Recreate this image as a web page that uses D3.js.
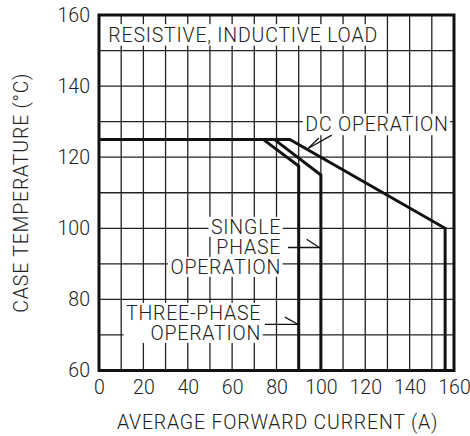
<!DOCTYPE html>
<html>
<head>
<meta charset="utf-8">
<script src="https://cdn.jsdelivr.net/npm/d3@7"></script>
<style>
  body { margin: 0; background: #fff; }
  text { font-family: Roboto, "Liberation Sans", Arial, sans-serif; font-weight: 300; fill: #222; letter-spacing: 0.8px; }
  .tick text { letter-spacing: 0; }
</style>
</head>
<body>
<svg width="470" height="436"></svg>
<script>
// values
var xTicks = [0, 20, 40, 60, 80, 100, 120, 140, 160];
var yTicks = [60, 80, 100, 120, 140, 160];
var threePhase = [[0, 125], [74, 125], [90, 117.5], [90, 60]];
var singlePhase = [[0, 125], [79, 125], [100, 115], [100, 60]];
var dcOperation = [[0, 125], [86, 125], [156, 100], [156, 60]];
var curves = [threePhase, singlePhase, dcOperation];

// labels, anchored in data units
var labels = [
  { lines: ["RESISTIVE, INDUCTIVE LOAD"], x: 4.2, y: 152.5, anchor: "start" },
  { lines: ["DC OPERATION"], x: 157.6, y: 127.3, anchor: "end" },
  { lines: ["SINGLE", "PHASE", "OPERATION"], x: 82.1, y: 98.3, anchor: "end" },
  { lines: ["THREE-PHASE", "OPERATION"], x: 73.1, y: 74.1, anchor: "end", block: true }
];
// leader lines [x1, y1, x2, y2]
var leaders = [
  [85.2, 94.6, 100, 94.6], [93.6, 96.9, 99.3, 94.6],
  [74.8, 73.0, 90, 73.0], [83.8, 75.0, 89.6, 73.0],
  [104.9, 126.2, 94.2, 122.45], [99.1, 125.4, 94.2, 122.45]
];

var svg = d3.select("svg"),
  margin = { top: 15, left: 99 },
  width = 355,
  height = 355.5,
  fs = 19.5,
  lineGap = 20,
  g = svg.append("g").attr("transform", "translate(" + margin.left + "," + margin.top + ")");

var x = d3.scaleLinear().domain([0, 160]).range([0, width]);
var y = d3.scaleLinear().domain([60, 160]).range([height, 0]);

// grid every 10
g.append("g").selectAll("line")
  .data(d3.range(10, 160, 10))
  .enter().append("line")
  .attr("x1", function(d) { return x(d); })
  .attr("x2", function(d) { return x(d); })
  .attr("y1", 0).attr("y2", height)
  .attr("stroke", "#222").attr("stroke-width", 1.3);

g.append("g").selectAll("line")
  .data(d3.range(70, 160, 10))
  .enter().append("line")
  .attr("y1", function(d) { return y(d); })
  .attr("y2", function(d) { return y(d); })
  .attr("x1", 0).attr("x2", width)
  .attr("stroke", "#222").attr("stroke-width", 1.3);

// white boxes behind labels, then the text
var lab = g.append("g");
labels.forEach(function(L) {
  var grp = lab.append("g");
  var texts = L.lines.map(function(s, i) {
    return grp.append("text")
      .attr("x", x(L.x))
      .attr("y", y(L.y) + i * lineGap)
      .attr("text-anchor", L.anchor)
      .attr("font-size", fs)
      .text(s);
  });
  var boxes = texts.map(function(t) { return t.node().getBBox(); });
  if (L.block) {
    var x0 = d3.min(boxes, function(b) { return b.x; }),
      x1 = d3.max(boxes, function(b) { return b.x + b.width; });
    boxes = boxes.map(function(b) { return { x: x0, width: x1 - x0 }; });
  }
  boxes.forEach(function(b, i) {
    grp.insert("rect", "text")
      .attr("x", b.x - 2.5)
      .attr("width", b.width + 4)
      .attr("y", y(L.y) + i * lineGap - 17.5)
      .attr("height", L.lines.length > 1 ? lineGap : 21.5)
      .attr("fill", "#fff");
  });
});

g.append("g").selectAll("line")
  .data(leaders)
  .enter().append("line")
  .attr("x1", function(d) { return x(d[0]); })
  .attr("y1", function(d) { return y(d[1]); })
  .attr("x2", function(d) { return x(d[2]); })
  .attr("y2", function(d) { return y(d[3]); })
  .attr("stroke", "#111").attr("stroke-width", 1.3);

// curves
var line = d3.line()
  .x(function(d) { return x(d[0]); })
  .y(function(d) { return y(d[1]); });

g.append("g").selectAll("path")
  .data(curves)
  .enter().append("path")
  .attr("d", line)
  .attr("fill", "none")
  .attr("stroke", "#111")
  .attr("stroke-width", 3)
  .attr("stroke-linejoin", "miter");

// frame
g.append("rect")
  .attr("width", width).attr("height", height)
  .attr("fill", "none").attr("stroke", "#111").attr("stroke-width", 3);

// axes, tick labels only
var xa = g.append("g")
  .attr("transform", "translate(0," + height + ")")
  .call(d3.axisBottom(x).tickValues(xTicks).tickSize(0).tickPadding(10));
var ya = g.append("g")
  .call(d3.axisLeft(y).tickValues(yTicks).tickSize(0).tickPadding(9));
[xa, ya].forEach(function(a) {
  a.select(".domain").remove();
  a.selectAll("text").attr("font-size", fs).attr("font-family", null).attr("fill", null);
});

// axis titles
g.append("text")
  .attr("x", width / 2 + 1)
  .attr("y", 414)
  .attr("text-anchor", "middle")
  .attr("font-size", fs)
  .text("AVERAGE FORWARD CURRENT (A)");

g.append("text")
  .attr("transform", "translate(" + (28 - margin.left) + "," + (height / 2) + ") rotate(-90)")
  .attr("text-anchor", "middle")
  .attr("font-size", fs)
  .text("CASE TEMPERATURE (°C)");
</script>
</body>
</html>
